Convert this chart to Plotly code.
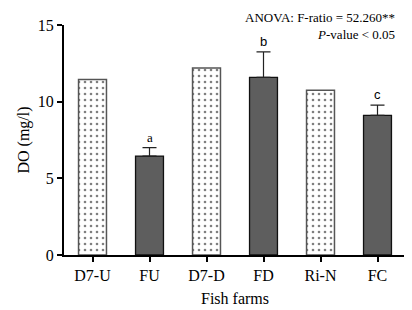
import plotly.graph_objects as go

categories = ["D7-U", "FU", "D7-D", "FD", "Ri-N", "FC"]
do_values = [11.45, 6.45, 12.2, 11.58, 10.75, 9.1]
error_plus = [0, 0.55, 0, 1.67, 0, 0.67]
sig_letters = ["", "a", "", "b", "", "c"]
is_farm = [False, True, False, True, False, True]

SERIF = "Liberation Serif, Times New Roman, serif"
SANS = "Liberation Sans, Arial, sans-serif"

fig = go.Figure()

ctrl_x = [c for c, f in zip(categories, is_farm) if not f]
ctrl_y = [v for v, f in zip(do_values, is_farm) if not f]
farm_x = [c for c, f in zip(categories, is_farm) if f]
farm_y = [v for v, f in zip(do_values, is_farm) if f]
farm_e = [e for e, f in zip(error_plus, is_farm) if f]

fig.add_trace(go.Bar(
    x=ctrl_x, y=ctrl_y, width=0.49,
    marker=dict(color="white", line=dict(color="#555555", width=1.5),
                pattern=dict(shape=".", size=6, solidity=0.15, fgcolor="black", bgcolor="white")),
    showlegend=False,
))
fig.add_trace(go.Bar(
    x=farm_x, y=farm_y, width=0.49,
    marker=dict(color="#5e5e5e", line=dict(color="#111111", width=1.3)),
    error_y=dict(type="data", symmetric=False, array=farm_e, arrayminus=[0]*len(farm_e),
                 color="#222222", thickness=1.2, width=7),
    showlegend=False,
))

for c, v, e, s in zip(categories, do_values, error_plus, sig_letters):
    if s:
        fam = SERIF if s == "a" else SANS
        fig.add_annotation(x=c, y=v + e, text=s, showarrow=False, yanchor="bottom", yshift=1,
                           font=dict(family=fam, size=13, color="black"))

fig.add_annotation(xref="paper", yref="paper", x=0.97, y=1 + 16.5 / 230, xanchor="right", yanchor="top",
                   align="right", borderpad=0,
                   text="ANOVA: F-ratio = 52.260**<br><i>P</i>-value < 0.05", showarrow=False,
                   font=dict(family=SERIF, size=13, color="black"))

fig.update_layout(
    width=404, height=302,
    margin=dict(l=56, r=6, t=17, b=55),
    plot_bgcolor="white", paper_bgcolor="white",
    font=dict(family=SERIF, size=16, color="black"),
)
fig.update_xaxes(
    type="category", categoryorder="array", categoryarray=categories,
    range=[-0.5, 5.5], showline=True, linecolor="black", linewidth=2,
    ticks="outside", ticklen=5, tickwidth=2, tickcolor="black",
    showgrid=False, zeroline=False, tickfont=dict(size=16),
    title=dict(text="Fish farms", font=dict(family=SERIF, size=16), standoff=10),
)
fig.update_yaxes(
    range=[0, 15], tickvals=[0, 5, 10, 15], showline=True, linecolor="black", linewidth=2,
    ticks="outside", ticklen=5, tickwidth=2, tickcolor="black",
    showgrid=False, zeroline=False, tickfont=dict(size=16),
    title=dict(text="DO (mg/l)", font=dict(family=SERIF, size=16), standoff=4),
)

fig.write_html("out.html")
